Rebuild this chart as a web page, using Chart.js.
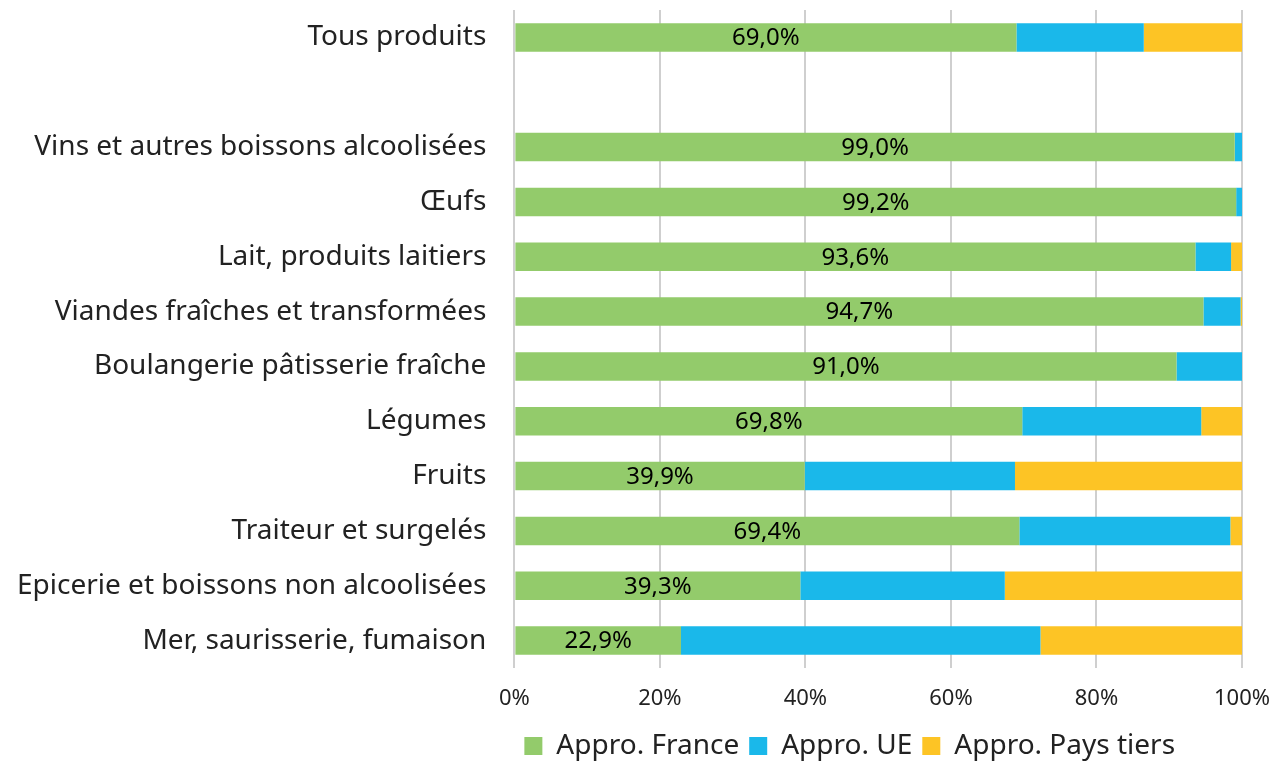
<!DOCTYPE html>
<html>
<head>
<meta charset="utf-8">
<script src="https://cdn.jsdelivr.net/npm/chart.js@4"></script>
<style>
  html, body { margin: 0; padding: 0; background: #fff; }
  #wrap { width: 1286px; height: 762px; }
</style>
</head>
<body>
<div id="wrap"><canvas id="myBarChart"></canvas></div>
<script>
const categories = [
  "Tous produits",
  "",
  "Vins et autres boissons alcoolisées",
  "Œufs",
  "Lait, produits laitiers",
  "Viandes fraîches et transformées",
  "Boulangerie pâtisserie fraîche",
  "Légumes",
  "Fruits",
  "Traiteur et surgelés",
  "Epicerie et boissons non alcoolisées",
  "Mer, saurisserie, fumaison"
];
const approFrance = [69.0, null, 99.0, 99.2, 93.6, 94.7, 91.0, 69.8, 39.9, 69.4, 39.3, 22.9];
const approUE = [17.5, null, 1.0, 0.8, 4.9, 5.1, 9.0, 24.6, 28.9, 29.0, 28.1, 49.4];
const approTiers = [13.5, null, 0, 0, 1.5, 0.2, 0, 5.6, 31.2, 1.6, 32.6, 27.7];
const seriesNames = ["Appro. France", "Appro. UE", "Appro. Pays tiers"];
const xTicks = [0, 20, 40, 60, 80, 100];

const FONT = "'Noto Sans', sans-serif";

// étiquettes au centre des barres vertes
const labelPlugin = {
  id: "franceLabels",
  afterDatasetsDraw: function (chart) {
    const ctx = chart.ctx;
    const meta = chart.getDatasetMeta(0);
    ctx.save();
    ctx.font = "24px " + FONT;
    ctx.fillStyle = "#000";
    ctx.textAlign = "center";
    ctx.textBaseline = "middle";
    meta.data.forEach(function (bar, i) {
      const v = approFrance[i];
      if (v === null) return;
      const x = (bar.x + bar.base) / 2;
      ctx.fillText(v.toFixed(1).replace(".", ",") + "%", x, bar.y + 1);
    });
    ctx.restore();
  },
};

const ctx = document.getElementById("myBarChart").getContext("2d");
new Chart(ctx, {
  type: "bar",
  data: {
    labels: categories,
    datasets: [
      { label: seriesNames[0], data: approFrance, backgroundColor: "#93CB6B" },
      { label: seriesNames[1], data: approUE, backgroundColor: "#1AB8EA" },
      { label: seriesNames[2], data: approTiers, backgroundColor: "#FDC425" },
    ],
  },
  options: {
    indexAxis: "y",
    responsive: true,
    maintainAspectRatio: false,
    animation: false,
    layout: { padding: { top: 10, right: 44, left: 17, bottom: -8 } },
    datasets: {
      bar: { categoryPercentage: 1, barPercentage: 0.52, borderWidth: 0 },
    },
    scales: {
      x: {
        stacked: true,
        min: 0,
        max: 100,
        afterBuildTicks: function (axis) {
          axis.ticks = xTicks.map(function (v) { return { value: v }; });
        },
        afterFit: function (axis) {
          axis.height = 54;
        },
        grid: {
          color: "#CFCFCF",
          lineWidth: 2,
          drawTicks: true,
          tickLength: 18,
          tickColor: "rgba(0,0,0,0)",
        },
        border: { display: false },
        ticks: {
          font: { family: FONT, size: 22 },
          color: "#222",
          padding: 0,
          callback: function (v) { return v + "%"; },
        },
      },
      y: {
        stacked: true,
        grid: { display: false, drawTicks: true, tickLength: 28 },
        border: { display: false },
        ticks: {
          font: { family: FONT, size: 28, lineHeight: 0.7 },
          color: "#222",
          padding: 0,
          autoSkip: false,
        },
      },
    },
    plugins: {
      tooltip: { enabled: false },
      legend: {
        position: "bottom",
        fullSize: false,
        align: "start",
        labels: {
          font: { family: FONT, size: 28 },
          color: "#222",
          boxWidth: 18,
          boxHeight: 18,
          padding: 10,
        },
      },
    },
  },
  plugins: [labelPlugin],
});
</script>
</body>
</html>
